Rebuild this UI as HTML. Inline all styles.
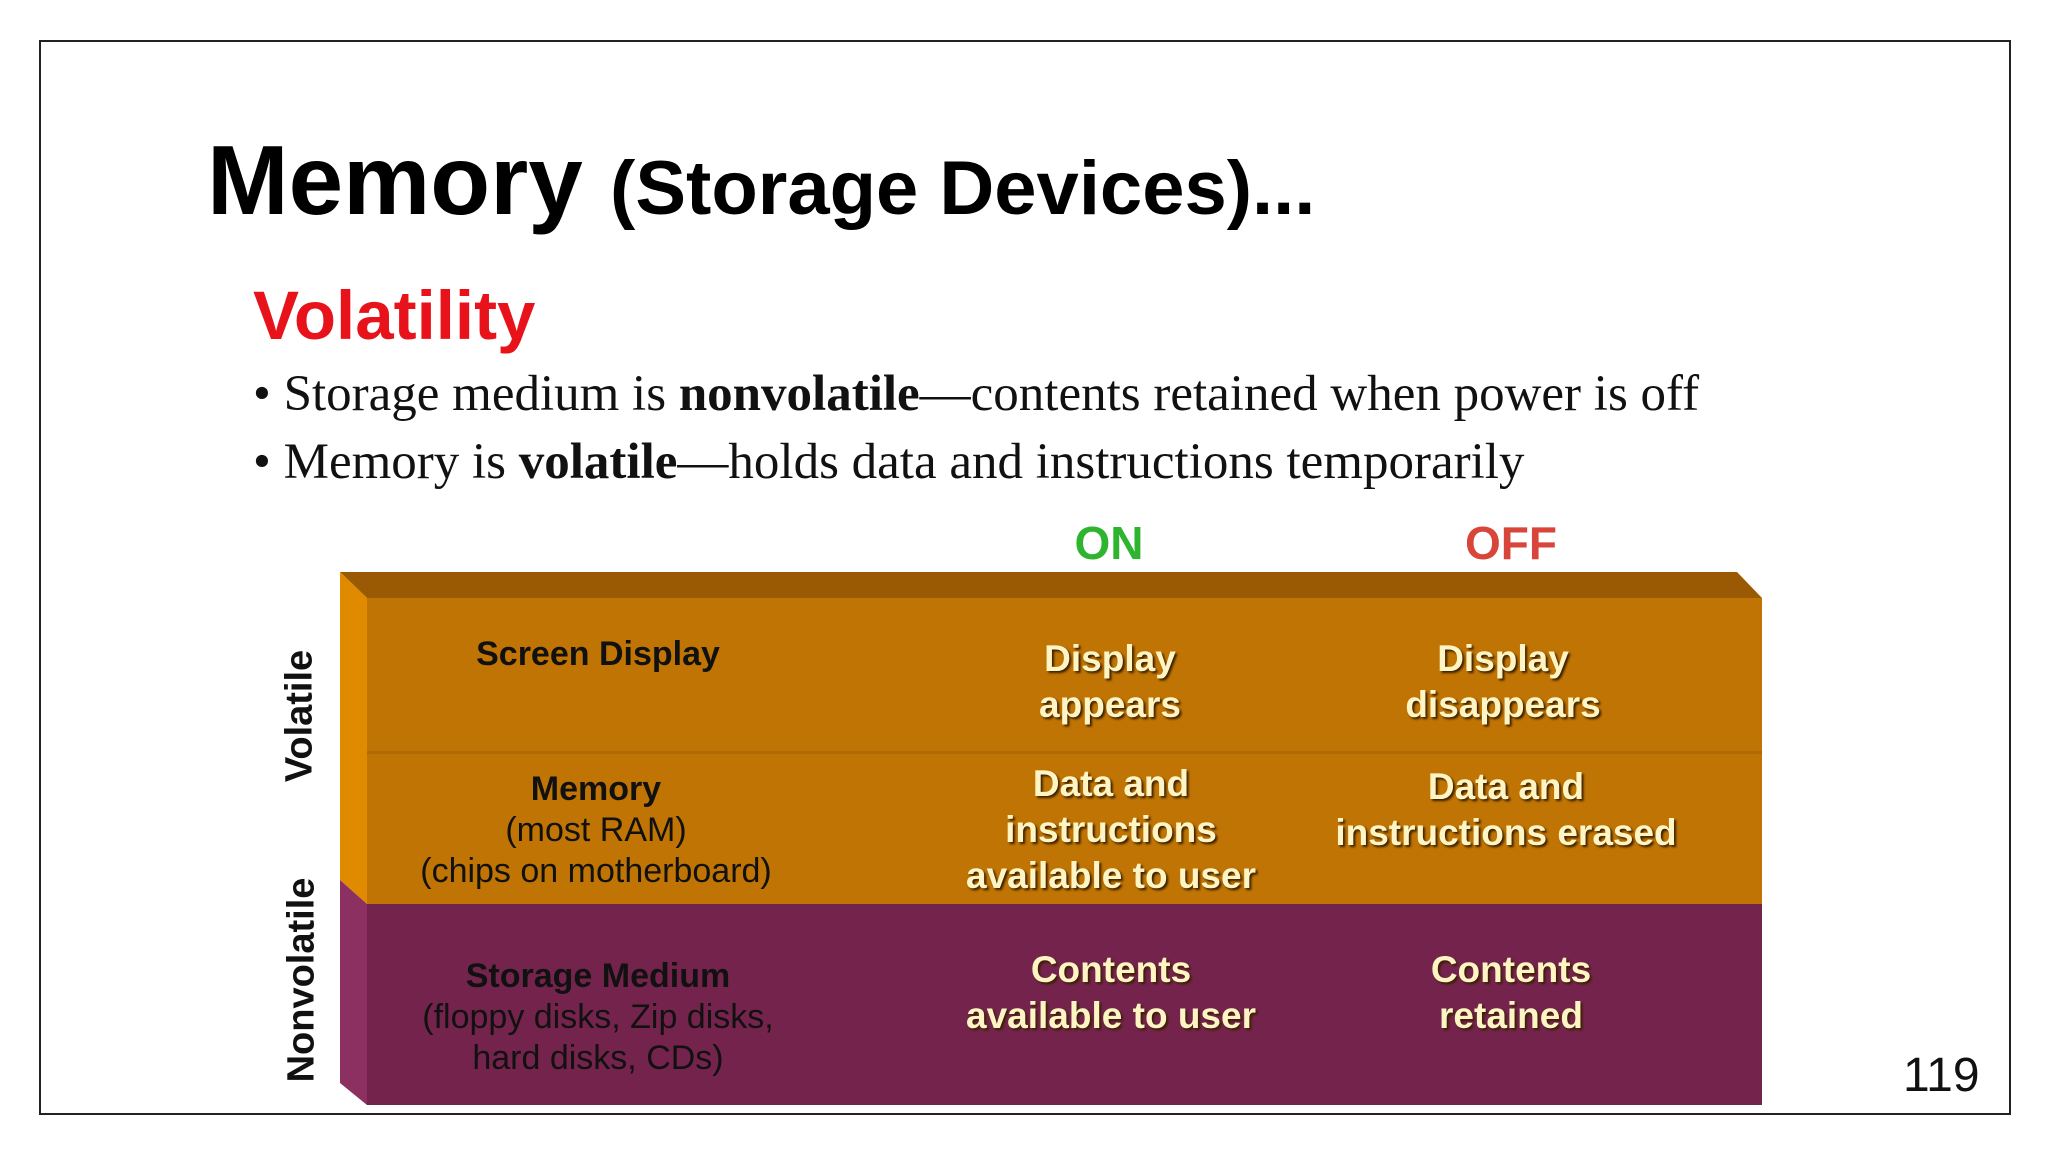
<!DOCTYPE html>
<html><head><meta charset="utf-8"><style>
body{margin:0;width:2048px;height:1152px;background:#fff;position:relative;overflow:hidden;font-family:"Liberation Sans",sans-serif}
.a{position:absolute;white-space:nowrap}
.c{text-align:center;transform:translateX(-50%)}
.w{color:#fff5c4;font-weight:bold;font-size:37px;line-height:46px;text-shadow:2px 2px 2px #3a2000}
.k{color:#111;font-size:34px;line-height:41px}
</style></head><body>
<div class="a" style="left:39px;top:40px;width:1968px;height:1071px;border:2px solid #222"></div>
<div class="a" style="left:207px;top:124px;font-weight:bold;font-size:98px;line-height:112px;color:#000">Memory <span style="font-size:76px">(Storage Devices)...</span></div>
<div class="a" style="left:253px;top:275px;font-weight:bold;font-size:69px;line-height:82px;color:#e8121b">Volatility</div>
<div class="a" style="left:253px;top:364px;font-family:'Liberation Serif',serif;font-size:51px;line-height:60px;color:#111">• Storage medium is <b>nonvolatile</b>—contents retained when power is off</div>
<div class="a" style="left:253px;top:432px;font-family:'Liberation Serif',serif;font-size:51px;line-height:60px;color:#111">• Memory is <b>volatile</b>—holds data and instructions temporarily</div>
<div class="a c" style="left:1109px;top:515px;font-weight:bold;font-size:46px;line-height:56px;color:#2fb42f">ON</div>
<div class="a c" style="left:1511px;top:515px;font-weight:bold;font-size:46px;line-height:56px;color:#d8453a">OFF</div>
<svg class="a" style="left:0;top:0" width="2048" height="1152">
<polygon points="340,572 1737,572 1762,598 367,598" fill="#9a5a03"/>
<polygon points="340,572 367,598 367,904 340,880" fill="#e08a00"/>
<polygon points="340,880 367,904 367,1105 340,1083" fill="#8c3062"/>
<rect x="367" y="598" width="1395" height="306" fill="#c07403"/>
<rect x="367" y="751" width="1395" height="3" fill="#b06a05"/>
<rect x="367" y="904" width="1395" height="201" fill="#74244c"/>
</svg>
<div class="a" style="left:300px;top:716px;transform:translate(-50%,-50%) rotate(-90deg);font-weight:bold;font-size:38px;color:#111">Volatile</div>
<div class="a" style="left:302px;top:980px;transform:translate(-50%,-50%) rotate(-90deg);font-weight:bold;font-size:38px;color:#111">Nonvolatile</div>
<div class="a c k" style="left:598px;top:634px"><b>Screen Display</b></div>
<div class="a c k" style="left:596px;top:769px"><b>Memory</b><br>(most RAM)<br>(chips on motherboard)</div>
<div class="a c k" style="left:598px;top:956px"><b>Storage Medium</b><br>(floppy disks, Zip disks,<br>hard disks, CDs)</div>
<div class="a c w" style="left:1110px;top:636px">Display<br>appears</div>
<div class="a c w" style="left:1503px;top:636px">Display<br>disappears</div>
<div class="a c w" style="left:1111px;top:761px">Data and<br>instructions<br>available to user</div>
<div class="a c w" style="left:1506px;top:764px">Data and<br>instructions erased</div>
<div class="a c w" style="left:1111px;top:947px">Contents<br>available to user</div>
<div class="a c w" style="left:1511px;top:947px">Contents<br>retained</div>
<div class="a" style="left:1903px;top:1046px;font-size:48px;line-height:60px;color:#111">119</div>
</body></html>
